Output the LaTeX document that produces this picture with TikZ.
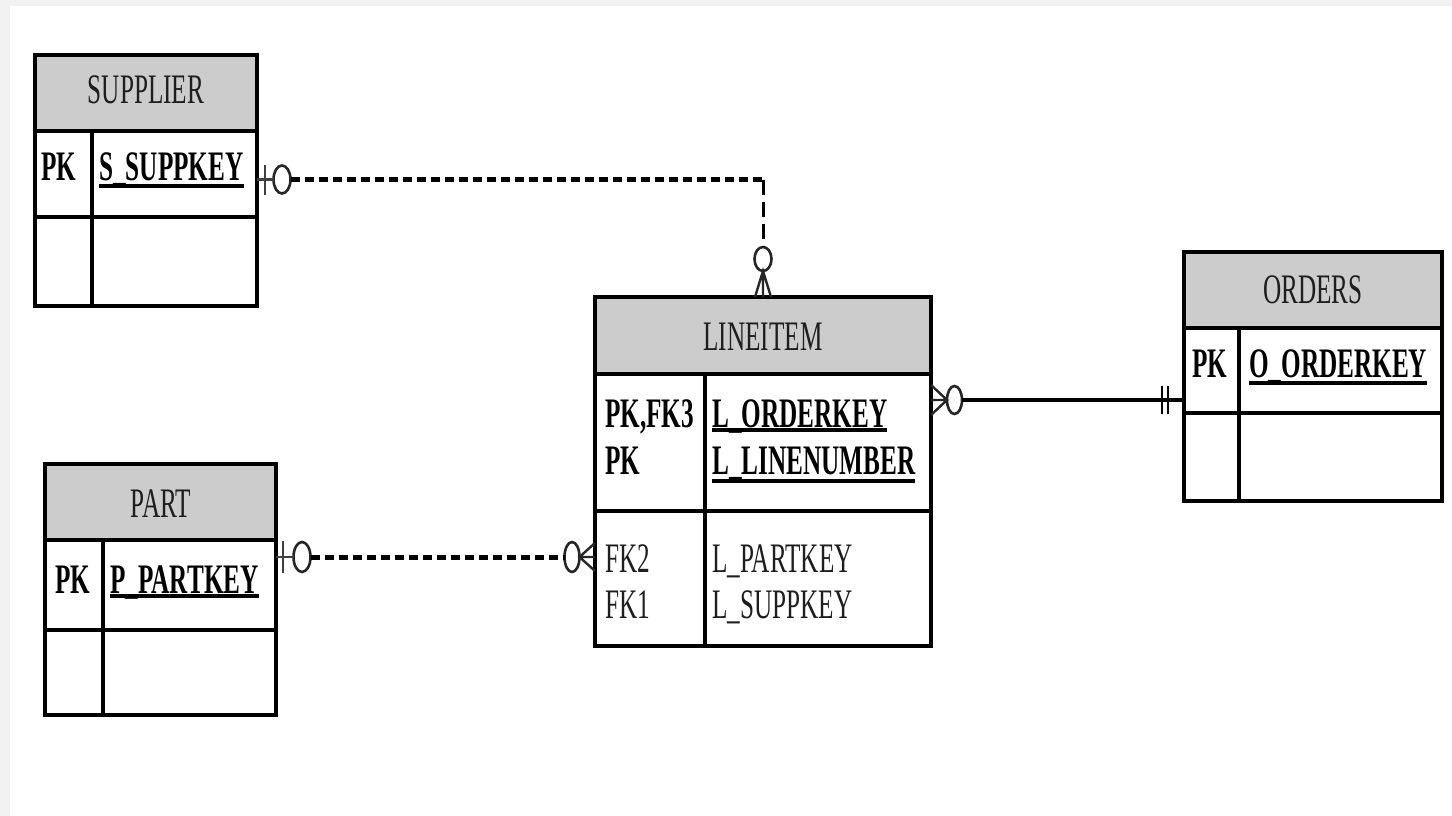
\documentclass[tikz,border=0pt]{standalone}
\usepackage{fontspec}
\setmainfont{Liberation Serif}[FakeStretch=0.6]
\usetikzlibrary{calc,shapes.geometric}
\definecolor{hdr}{HTML}{CCCCCC}
\definecolor{framegray}{HTML}{F2F2F2}
\definecolor{ink}{HTML}{1E1E1E}

\begin{document}
\begin{tikzpicture}[x=1pt,y=-1pt,line join=miter,
  box/.style={draw=black,line width=3.2pt,inner sep=0pt,outer sep=0pt,anchor=north west},
  rule/.style={black,line width=3.2pt},
  title/.style={inner sep=0pt,anchor=base,text=ink,font=\fontsize{42}{42}\selectfont},
  keytxt/.style={inner sep=0pt,anchor=base west,text=black,font=\fontsize{42}{42}\selectfont\bfseries},
  attrtxt/.style={inner sep=0pt,anchor=base west,text=ink,font=\fontsize{42}{42}\selectfont},
  uline/.style={black,line width=3.8pt},
  ring/.style={ellipse,draw=black!85,line width=2.6pt,inner sep=0pt,outer sep=0pt,fill=white},
  tick/.style={black!75,line width=2.6pt},
  foot/.style={black!85,line width=2.4pt},
  dashh/.style={black,line width=5pt,dash pattern=on 9pt off 5pt},
  dashv/.style={black,line width=3pt,dash pattern=on 15pt off 7pt},
  solidh/.style={black,line width=4pt},
  bars/.style={black,line width=2.8pt}]

\useasboundingbox (0,0) rectangle (1452,816);
\fill[framegray] (0,0) rectangle (1452,816);
\fill[white] (10,6) rectangle (1452,816);

% ---------- header fills ----------
\fill[hdr] (35,55) rectangle (257,131);
\fill[hdr] (45,464) rectangle (276,540);
\fill[hdr] (595,297) rectangle (931,374);
\fill[hdr] (1184,252) rectangle (1442,328);

% ---------- SUPPLIER ----------
\node[box,minimum width=222pt,minimum height=251pt] (supplier) at (35,55) {};
\draw[rule] (35,131) -- (257,131) (35,217) -- (257,217) (92,131) -- (92,306);
\node[title] (suppliert) at (146,103) {SUPPLIER};
\node[keytxt] (supplierpk) at (41,180) {PK};
\node[keytxt] (suppkey) at (99,180) {S\_SUPPKEY};
\draw[uline] ([yshift=-6pt]suppkey.base west) -- ([yshift=-6pt]suppkey.base east);

% ---------- PART ----------
\node[box,minimum width=231pt,minimum height=251pt] (part) at (45,464) {};
\draw[rule] (45,540) -- (276,540) (45,630) -- (276,630) (103,540) -- (103,715);
\node[title] (partt) at (161,517) {PART};
\node[keytxt] (partpk) at (55,593) {PK};
\node[keytxt] (partkey) at (110,593) {P\_PARTKEY};
\draw[uline] ([yshift=-3pt]partkey.base west) -- ([yshift=-3pt]partkey.base east);

% ---------- LINEITEM ----------
\node[box,minimum width=336pt,minimum height=349pt] (lineitem) at (595,297) {};
\draw[rule] (595,374) -- (931,374) (595,511) -- (931,511) (705,374) -- (705,646);
\node[title] (lineitemt) at (763,350) {LINEITEM};
\node[keytxt] (lipk1) at (605,427) {PK,FK3};
\node[keytxt] (lipk2) at (605,474) {PK};
\node[keytxt] (lorderkey) at (712,427) {L\_ORDERKEY};
\node[keytxt] (llinenumber) at (712,474) {L\_LINENUMBER};
\draw[uline] ([yshift=-3pt]lorderkey.base west) -- ([yshift=-3pt]lorderkey.base east);
\draw[uline] ([yshift=-7pt]llinenumber.base west) -- ([yshift=-7pt]llinenumber.base east);
\node[attrtxt] (lifk2) at (605,572) {FK2};
\node[attrtxt] (lifk1) at (605,618) {FK1};
\node[attrtxt] (lpartkey) at (712,572) {L\_PARTKEY};
\node[attrtxt] (lsuppkey) at (712,618) {L\_SUPPKEY};

% ---------- ORDERS ----------
\node[box,minimum width=258pt,minimum height=249pt] (orders) at (1184,252) {};
\draw[rule] (1184,328) -- (1442,328) (1184,413) -- (1442,413) (1239,328) -- (1239,501);
\node[title] (orderst) at (1313,303) {ORDERS};
\node[keytxt] (orderspk) at (1192,377) {PK};
\node[keytxt] (okey) at (1249,377) {O\_ORDERKEY};
\draw[uline] ([yshift=-6pt]okey.base west) -- ([yshift=-6pt]okey.base east);

% ---------- SUPPLIER -- LINEITEM (zero-or-one to zero-or-many) ----------
\coordinate (s1) at ($(supplier.east)+(0,-1)$);
\node[ring,minimum width=17pt,minimum height=28pt] (r1a) at ($(s1)+(25,0)$) {};
\node[ring,minimum width=17pt,minimum height=24pt] (r1b) at ($(lineitem.north)+(0,-38)$) {};
\coordinate (k1) at (r1a.east -| lineitem.north);
\draw[tick] (s1) -- (r1a.west);
\draw[tick] ($(s1)+(8,-15)$) -- ($(s1)+(8,15)$);
\draw[dashh] (r1a.east) -- (k1);
\draw[dashv] (k1) -- (r1b.north);
\draw[foot] ($(lineitem.north)+(-8,0)$) -- (r1b.south) -- ($(lineitem.north)+(8,0)$)
            (r1b.south) -- (lineitem.north);

% ---------- PART -- LINEITEM (zero-or-one to zero-or-many) ----------
\coordinate (p1) at ($(part.east)+(0,-32.5)$);
\coordinate (l2) at (p1 -| lineitem.west);
\node[ring,minimum width=17pt,minimum height=30pt] (r2a) at ($(p1)+(26,0)$) {};
\node[ring,minimum width=15pt,minimum height=30pt] (r2b) at ($(l2)+(-23,0)$) {};
\draw[tick] (p1) -- (r2a.west);
\draw[tick] ($(p1)+(7,-16)$) -- ($(p1)+(7,16)$);
\draw[dashh] (r2a.east) -- (r2b.west);
\draw[foot] ($(l2)+(0,-14)$) -- (r2b.east) -- ($(l2)+(0,14)$)
            (r2b.east) -- (l2);

% ---------- LINEITEM -- ORDERS (zero-or-many to exactly one) ----------
\coordinate (l3) at ($(lineitem.east)+(0,-71.5)$);
\coordinate (o3) at (l3 -| orders.west);
\node[ring,minimum width=15pt,minimum height=28pt] (r3a) at ($(l3)+(23.5,0)$) {};
\draw[foot] ($(l3)+(0,-15)$) -- (r3a.west) -- ($(l3)+(0,15)$)
            (l3) -- (r3a.west);
\draw[solidh] (r3a.east) -- (o3);
\draw[bars] ($(o3)+(-22,-14)$) -- ($(o3)+(-22,14)$)
            ($(o3)+(-16,-14)$) -- ($(o3)+(-16,14)$);
\end{tikzpicture}
\end{document}
